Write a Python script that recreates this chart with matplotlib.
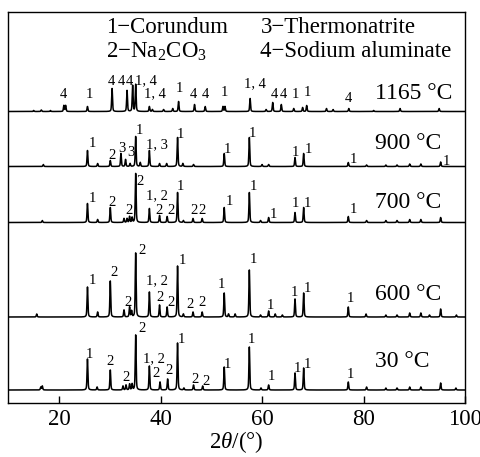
"""XRD patterns of the sample after heating at different temperatures"""
import numpy as np
import matplotlib
matplotlib.use("Agg")
from matplotlib import pyplot as plt

plt.rcParams['font.family'] = ['Liberation Serif', 'DejaVu Serif']
plt.rcParams['mathtext.fontset'] = 'custom'
plt.rcParams['mathtext.rm'] = 'Liberation Serif'
plt.rcParams['mathtext.it'] = 'Liberation Serif:italic'

# ---- data: peak position (2theta, deg) and height (a.u.) ----
temps = ['1165 °C', '900 °C', '700 °C', '600 °C', '30 °C']

pos_1165 = [15.0, 16.5, 18.3, 20.95, 21.3, 25.6, 30.45, 33.4, 34.5, 35.1, 37.8, 38.4, 40.6, 42.4,
            43.55, 46.7, 48.8, 52.3, 52.7, 57.65, 60.8, 62.1, 63.8, 66.25, 68.0, 68.8, 72.7, 74.0,
            77.1, 82.0, 87.2, 94.9]
int_1165 = [1, 1.5, 1, 6, 6, 5, 23, 21, 26, 27, 5, 2, 2, 3,
            10, 7, 5, 5, 5, 13, 2, 9, 7, 3, 4, 6, 3, 2,
            3, 1, 3, 3]

pos_900 = [16.9, 25.6, 27.6, 30.1, 32.2, 33.1, 34.0, 35.1, 36.0, 37.8, 39.8, 41.2, 43.35, 44.4,
           46.5, 52.55, 57.5, 60.0, 61.3, 66.5, 68.2, 77.0, 80.6, 84.4, 86.6, 89.1, 91.3, 95.2]
int_900 = [2, 16, 3, 6, 13, 7, 3, 30, 4, 16, 3, 3, 29, 3,
           2, 13, 29, 2, 2, 9, 13, 4, 1.5, 1.5, 1.5, 2.5, 2.5, 4.5]

pos_700 = [16.7, 25.6, 27.6, 30.1, 32.8, 33.4, 33.9, 34.4, 35.1, 37.8, 39.8, 41.3, 43.35, 44.5,
           46.4, 48.2, 52.55, 57.5, 59.7, 61.3, 66.5, 68.2, 77.0, 80.6, 84.4, 86.6, 89.1, 91.3, 95.2]
int_700 = [2, 19, 3, 15, 4, 4, 6, 5, 49, 14, 7, 6, 30, 2,
           4, 4, 15, 30, 2, 5, 10, 15, 6, 2, 2, 2, 3, 3, 5]

pos_600 = [15.6, 25.6, 27.6, 30.1, 32.8, 33.9, 34.3, 35.1, 37.8, 39.8, 41.3, 43.35, 44.5, 46.4,
           48.2, 52.55, 53.4, 54.7, 57.5, 59.7, 61.3, 62.6, 64.0, 66.5, 68.2, 77.0, 80.5, 84.4,
           86.6, 89.1, 91.3, 93.0, 95.2, 98.3]
int_600 = [3, 30, 5, 36, 7, 10, 6, 64, 25, 12, 10, 51, 3, 5,
           5, 24, 3, 3, 47, 2, 6, 3, 2, 18, 24, 10, 3, 2,
           2, 4, 4, 2, 8, 2]

pos_30 = [16.4, 16.7, 25.6, 27.5, 30.1, 32.6, 33.2, 33.9, 34.4, 35.1, 37.8, 39.9, 41.4, 43.35,
          44.6, 46.5, 48.3, 52.55, 57.5, 59.8, 61.3, 66.5, 68.2, 77.0, 80.6, 84.4, 86.6, 89.1,
          91.3, 95.2, 98.2]
int_30 = [3, 4, 31, 3, 20, 4, 5, 6, 6, 55, 24, 8, 11, 47,
          2, 5, 4, 23, 43, 2, 5, 17, 22, 8, 3, 2, 2, 3,
          3, 7, 2]

# phase labels above peaks: (text, 2theta, height above the trace baseline)
lab_1165 = [('4', 20.9, 13), ('1', 26.0, 13), ('4', 30.4, 26.5), ('4', 32.2, 26.5), ('4', 33.95, 26.5),
            ('1, 4', 37.15, 27), ('1, 4', 38.8, 14), ('1', 43.7, 19), ('4', 46.5, 13), ('4', 48.8, 13),
            ('1', 52.6, 15), ('1, 4', 58.6, 24), ('4', 62.5, 14), ('4', 64.2, 14), ('1', 66.6, 14),
            ('1', 68.95, 15), ('4', 77.1, 10)]
lab_900 = [('1', 26.5, 19.2), ('2', 30.4, 7.5), ('3', 32.4, 14.8), ('3', 34.2, 11), ('1', 35.8, 32.5),
           ('1, 3', 39.3, 18.5), ('1', 44.0, 28.5), ('1', 53.1, 13.8), ('1', 58.2, 29.8), ('1', 66.6, 10.8),
           ('1', 69.2, 13.2), ('1', 78.0, 3.8), ('1', 96.3, 1.5)]
lab_700 = [('1', 26.5, 20.8), ('2', 30.5, 16), ('2', 33.7, 8.8), ('2', 36.0, 37.5), ('1, 2', 39.3, 23.7),
           ('2', 39.6, 8.8), ('2', 42.0, 8.8), ('1', 44.0, 33), ('2', 46.6, 8.8), ('2', 48.2, 8.8),
           ('1', 53.6, 17.5), ('1', 58.4, 32.5), ('1', 62.3, 4.2), ('1', 66.6, 15.8), ('1', 69.0, 15.8),
           ('1', 78.0, 9.2)]
lab_600 = [('1', 26.5, 33), ('2', 30.9, 41.5), ('2', 33.65, 11), ('2', 36.3, 62.5), ('1, 2', 39.2, 33),
           ('2', 39.9, 16), ('2', 42.05, 11), ('1', 44.3, 53), ('2', 45.9, 9.2), ('2', 48.25, 10.5),
           ('1', 51.95, 29), ('1', 58.4, 53.7), ('1', 61.6, 7.7), ('1', 66.4, 21), ('1', 69.0, 25.3),
           ('1', 77.4, 15.3)]
lab_30 = [('1', 26.0, 31.7), ('2', 30.1, 25.3), ('2', 33.2, 9), ('2', 36.3, 58.3), ('1, 2', 38.65, 28),
          ('2', 39.15, 13.3), ('2', 41.75, 15.5), ('1', 44.2, 46.7), ('2', 46.7, 6.7), ('2', 49.0, 5.3),
          ('1', 53.2, 21.7), ('1', 58.0, 47.3), ('1', 61.8, 10), ('1', 67.0, 18.3), ('1', 69.0, 21.7),
          ('1', 77.4, 11.7)]

legend_lines = ['1\u2212Corundum', '3\u2212Thermonatrite',
                '2\u2212Na$_2$CO$_3$', '4\u2212Sodium aluminate']

# ---- layout ----
offsets = [291.5, 236.5, 180.5, 86, 13]          # stacking of the traces
temp_label_y = [12.5, 17.2, 14.2, 17, 23.3]        # temperature text above each baseline
patterns = [(pos_1165, int_1165, lab_1165), (pos_900, int_900, lab_900),
            (pos_700, int_700, lab_700), (pos_600, int_600, lab_600),
            (pos_30, int_30, lab_30)]


def profile(x, center, hwhm=0.1, eta=0.45):
    """pseudo-Voigt line shape, height 1"""
    d = ((x - center) / hwhm) ** 2
    return eta / (1 + d) + (1 - eta) * np.exp(-np.log(2) * d)


two_theta = np.arange(10, 100.001, 0.01)

fig = plt.figure(figsize=(4.81, 4.57), dpi=100)
ax = fig.add_axes([8.3 / 481, 1 - 403 / 457, (465 - 8.3) / 481, (403 - 12) / 457])

for (pos, inten, labels), off, name, ty in zip(patterns, offsets, temps, temp_label_y):
    y = np.full_like(two_theta, off)
    for c, h in zip(pos, inten):
        y += h * profile(two_theta, c)
    ax.plot(two_theta, y, color='black', linewidth=1.1)
    for txt, xx, dy in labels:
        ax.text(xx, off + dy, txt, fontsize=10.5, ha='center', va='baseline')
    ax.text(82.2, off + ty, name, fontsize=17, ha='left', va='baseline')

ax.text(29.3, 369.7, legend_lines[0], fontsize=16.5, va='baseline')
ax.text(59.7, 369.7, legend_lines[1], fontsize=16.5, va='baseline')
ax.text(29.3, 345.7, legend_lines[2], fontsize=16.5, va='baseline')
ax.text(59.7, 345.7, legend_lines[3], fontsize=16.5, va='baseline')

ax.set_xlim(10, 100)
ax.set_ylim(0, 391)
ax.set_xticks([20, 40, 60, 80, 100])
ax.set_yticks([])
ax.tick_params(axis='x', direction='in', length=5, width=1, labelsize=16.5, pad=4)
for s in ax.spines.values():
    s.set_linewidth(1)
ax.set_xlabel(r'2$\mathit{\theta}$/(°)', fontsize=16.5, labelpad=0)

fig.savefig('out.png', dpi=100)
